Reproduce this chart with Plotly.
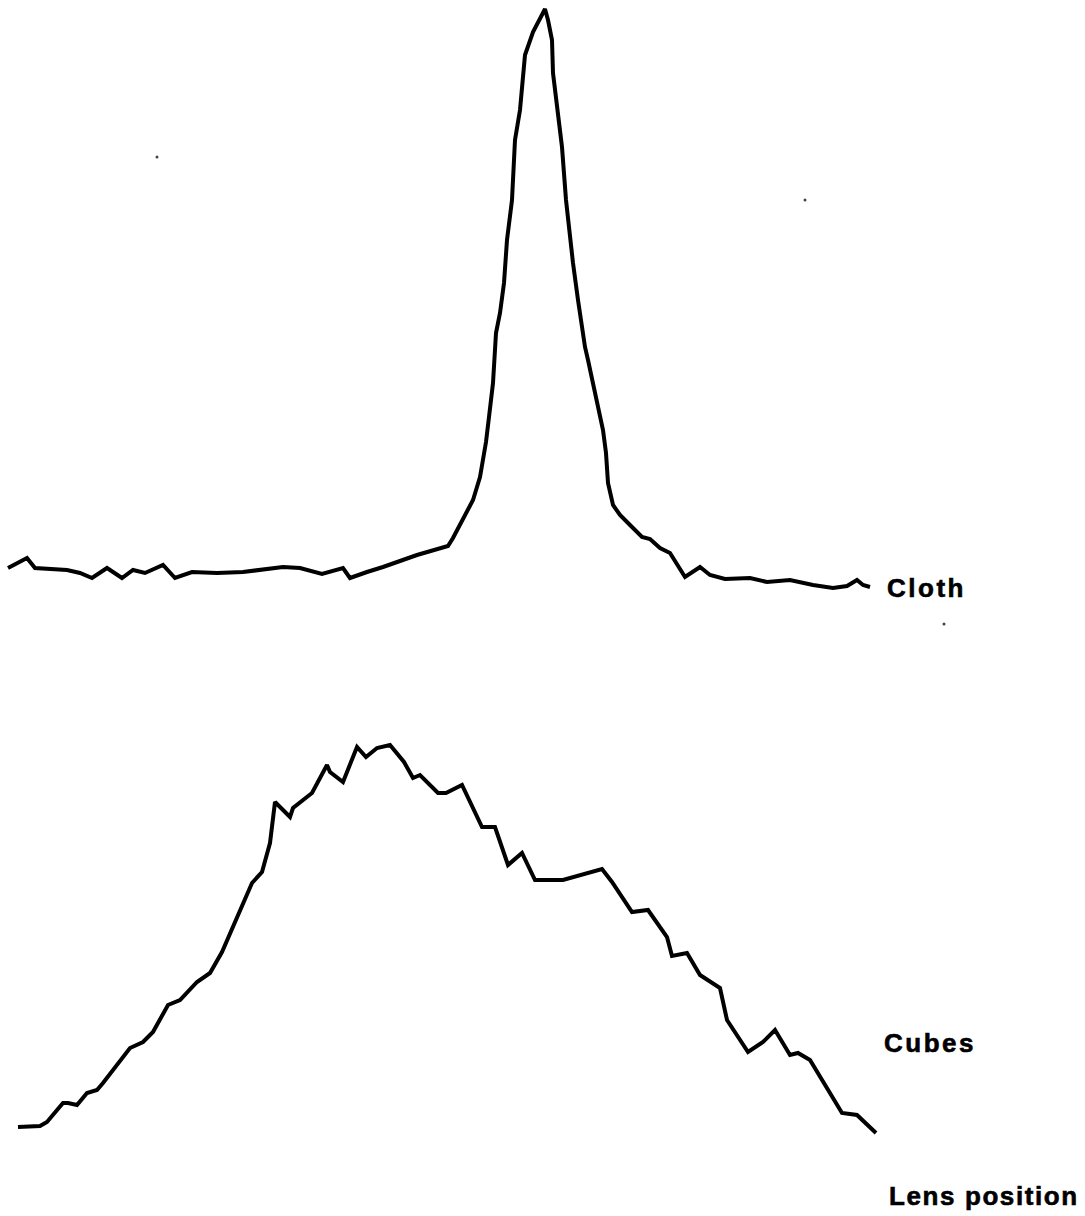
import plotly.graph_objects as go

# Cloth: lens position vs. focus response (screen units)
cloth_pos = [8, 27, 35, 67, 80, 92, 107, 122, 133, 145, 163, 175, 192, 217, 243, 283, 300,
             322, 343, 350, 367, 383, 417, 445, 448, 453, 463, 473, 480, 483, 486, 489, 493,
             496, 500, 504, 507, 512, 515, 520, 523, 525, 533, 545, 548, 552, 553, 558, 562,
             566, 568, 573, 578, 585, 588, 597, 603, 606, 608, 613, 620, 630, 642, 650, 660,
             670, 685, 700, 710, 725, 750, 767, 790, 813, 833, 847, 857, 863, 870]
cloth_resp = [568, 558, 568, 570, 573, 578, 568, 578, 570, 573, 565, 578, 572, 573, 572, 567, 568,
              574, 568, 578, 572, 567, 555, 547, 546, 538, 520, 500, 477, 460, 442, 417, 383,
              333, 313, 283, 240, 200, 140, 110, 73, 55, 32, 9, 20, 40, 73, 113, 147,
              200, 220, 263, 300, 347, 360, 400, 430, 453, 483, 505, 515, 525, 537, 539, 548,
              553, 577, 567, 575, 579, 578, 582, 580, 585, 588, 586, 580, 585, 587]

# Cubes
cubes_pos = [18, 40, 47, 63, 68, 77, 87, 97, 103, 130, 143, 153, 168, 180, 197, 210, 222, 237,
             252, 262, 270, 275, 290, 293, 312, 327, 330, 343, 357, 366, 377, 390, 404, 413,
             420, 438, 446, 462, 482, 495, 508, 522, 535, 563, 580, 602, 612, 632, 648, 667,
             672, 687, 700, 720, 727, 735, 748, 763, 775, 790, 798, 810, 842, 857, 876]
cubes_resp = [1127, 1126, 1122, 1103, 1103, 1105, 1093, 1090, 1083, 1048, 1042, 1032, 1005, 1000,
              982, 973, 952, 917, 883, 872, 843, 802, 817, 808, 793, 765, 772, 782, 747, 757,
              748, 745, 762, 778, 775, 793, 793, 785, 827, 827, 865, 853, 880, 880, 875, 869,
              882, 912, 910, 937, 956, 953, 975, 988, 1020, 1032, 1052, 1042, 1030, 1055, 1053,
              1060, 1113, 1115, 1133]

# Small specks in the scan
speck_pos = [157, 805, 944]
speck_resp = [157, 200, 624]

labels = ["Cloth", "Cubes", "Lens position"]
label_pos = [885, 882, 887]
label_resp = [588, 1043, 1196]
label_spacing = [2.5, 2.5, 1.6]

fig = go.Figure()
fig.add_trace(go.Scatter(x=cloth_pos, y=cloth_resp, mode="lines",
                         line=dict(color="black", width=4, shape="linear"),
                         hoverinfo="skip", showlegend=False))
fig.add_trace(go.Scatter(x=cubes_pos, y=cubes_resp, mode="lines",
                         line=dict(color="black", width=4, shape="linear"),
                         hoverinfo="skip", showlegend=False))
fig.add_trace(go.Scatter(x=speck_pos, y=speck_resp, mode="markers",
                         marker=dict(color="#444", size=3),
                         hoverinfo="skip", showlegend=False))

for t, x, y, ls in zip(labels, label_pos, label_resp, label_spacing):
    fig.add_annotation(x=x, y=y, xref="x", yref="y", xanchor="left", yanchor="middle",
                       text=(f'<b><span style="letter-spacing:{ls}px;stroke:black;'
                             f'stroke-width:0.6px">{t}</span></b>'),
                       showarrow=False,
                       font=dict(family="Liberation Sans, Arial, sans-serif", size=26, color="black"))

fig.update_xaxes(range=[0, 1085], visible=False, showgrid=False, zeroline=False)
fig.update_yaxes(range=[1216, 0], visible=False, showgrid=False, zeroline=False)
fig.update_layout(width=1085, height=1216, margin=dict(l=0, r=0, t=0, b=0),
                  plot_bgcolor="white", paper_bgcolor="white")

fig.write_html("out.html", config={"displayModeBar": False},
               post_script="document.body.style.margin='0';document.body.style.overflow='hidden';")
